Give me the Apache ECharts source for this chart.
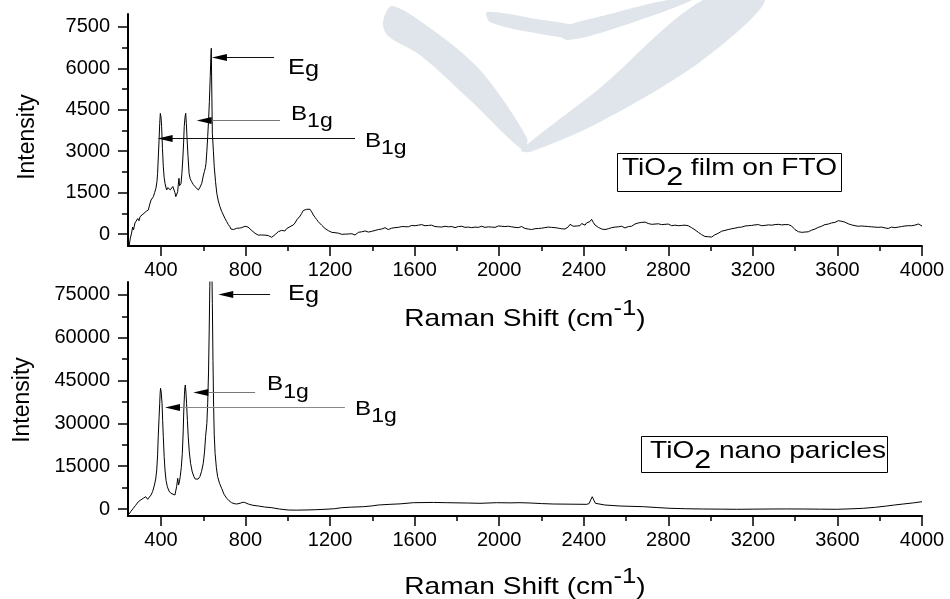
<!DOCTYPE html>
<html><head><meta charset="utf-8">
<script src="https://cdn.jsdelivr.net/npm/echarts@6/dist/echarts.min.js"></script>
<style>html,body{margin:0;padding:0;background:#fff}#c{width:950px;height:599px}</style>
</head><body><div id="c"></div>
<script>
// ---------- tick labels ----------
const xTicks = [400, 800, 1200, 1600, 2000, 2400, 2800, 3200, 3600, 4000];
const xMinorTicks = [600, 1000, 1400, 1800, 2200, 2600, 3000, 3400, 3800];
const filmYTicks = [0, 1500, 3000, 4500, 6000, 7500];
const filmYMinor = [750, 2250, 3750, 5250, 6750];
const npYTicks = [0, 15000, 30000, 45000, 60000, 75000];
const npYMinor = [7500, 22500, 37500, 52500, 67500];

// ---------- series values: [Raman shift (cm-1), intensity] ----------
const filmSpectrum = [
[249,-460],[255,-150],[261,36],[266,250],[270,150],[277,400],[283,350],[290,560],[296,480],[301,627],[308,600],[315,720],[320,680],[324,760],[330,820],[336,780],[340,870],[346,1050],[353,1232],[358,1300],[364,1352],[370,1500],[376,1655],[381,1900],[384,2200],[388,2900],[391,3400],[394,4000],[397,4370],[400,4250],[403,3890],[407,3100],[411,2440],[415,2050],[419,1840],[423,1700],[427,1595],[432,1680],[438,1690],[444,1600],[451,1620],[456,1720],[462,1690],[466,1500],[470,1352],[475,1450],[479,1533],[482,1800],[485,2018],[488,1750],[490,1690],[495,1836],[499,2200],[503,2680],[507,3300],[510,3890],[514,4250],[517,4373],[520,4000],[523,3525],[528,2800],[533,2200],[538,2000],[545,1895],[552,1800],[561,1714],[568,1650],[577,1595],[585,1700],[593,1836],[600,2100],[605,2257],[610,2400],[613,2560],[617,3000],[621,3525],[625,4100],[629,4800],[633,5700],[636,6400],[638,6728],[640,5400],[643,3650],[648,3000],[652,2440],[658,1900],[664,1475],[671,1200],[679,990],[687,820],[695,690],[703,560],[711,446],[718,350],[726,265],[731,180],[737,120],[743,160],[750,190],[758,206],[765,230],[772,215],[782,228],[790,260],[797,280],[805,290],[812,250],[821,206],[830,120],[838,60],[845,25],[852,10],[860,-40],[868,-20],[876,-36],[884,-80],[892,-40],[900,-97],[908,-60],[916,-36],[924,-120],[931,-97],[940,-20],[948,30],[955,83],[962,60],[970,130],[979,145],[986,110],[994,190],[1002,206],[1010,265],[1018,290],[1026,326],[1034,400],[1042,507],[1050,560],[1058,650],[1066,750],[1073,850],[1081,880],[1089,895],[1097,920],[1105,895],[1113,800],[1121,688],[1129,600],[1137,520],[1144,446],[1152,380],[1160,320],[1168,265],[1176,200],[1184,150],[1192,120],[1200,90],[1208,60],[1215,80],[1223,47],[1231,20],[1239,30],[1247,-10],[1255,-12],[1263,20],[1271,-5],[1279,40],[1287,0],[1295,30],[1303,10],[1310,-20],[1318,-36],[1326,20],[1334,60],[1342,47],[1350,80],[1358,60],[1366,110],[1373,83],[1381,70],[1389,120],[1397,95],[1405,83],[1413,130],[1420,110],[1428,160],[1436,145],[1444,180],[1452,160],[1460,228],[1468,190],[1475,160],[1483,170],[1491,210],[1499,190],[1507,230],[1515,206],[1523,240],[1531,220],[1539,270],[1546,250],[1554,265],[1562,290],[1570,260],[1578,300],[1586,310],[1594,326],[1602,300],[1610,330],[1618,320],[1625,290],[1633,340],[1641,326],[1649,300],[1657,350],[1665,310],[1672,280],[1680,320],[1688,300],[1696,270],[1704,300],[1712,260],[1720,290],[1728,250],[1736,265],[1744,280],[1752,240],[1760,260],[1768,230],[1776,270],[1783,250],[1791,230],[1799,243],[1807,270],[1815,240],[1823,280],[1831,260],[1838,240],[1846,290],[1854,250],[1862,265],[1870,230],[1878,270],[1886,250],[1894,290],[1901,240],[1909,260],[1917,280],[1925,265],[1933,240],[1941,280],[1949,260],[1957,290],[1964,250],[1972,270],[1980,240],[1988,265],[1996,290],[2004,260],[2012,280],[2020,300],[2027,270],[2035,310],[2043,280],[2051,290],[2059,260],[2067,280],[2075,240],[2083,260],[2090,230],[2098,250],[2106,270],[2114,228],[2122,200],[2130,230],[2138,180],[2146,210],[2153,160],[2161,145],[2169,190],[2177,220],[2185,200],[2193,240],[2201,210],[2209,206],[2216,230],[2224,200],[2232,250],[2240,220],[2248,240],[2256,200],[2264,230],[2272,228],[2280,210],[2287,240],[2295,190],[2303,220],[2311,180],[2319,170],[2327,260],[2335,350],[2343,300],[2350,280],[2358,320],[2366,290],[2374,330],[2382,300],[2390,380],[2398,350],[2406,320],[2413,400],[2421,410],[2429,450],[2437,532],[2445,420],[2453,326],[2461,265],[2469,240],[2477,206],[2485,180],[2492,220],[2500,160],[2508,145],[2516,190],[2524,206],[2532,230],[2540,206],[2548,250],[2555,220],[2563,260],[2571,240],[2579,280],[2587,250],[2595,220],[2603,228],[2611,270],[2618,300],[2626,280],[2634,330],[2642,360],[2650,340],[2658,400],[2666,446],[2674,420],[2682,380],[2690,430],[2698,410],[2705,380],[2713,400],[2721,350],[2729,390],[2737,360],[2745,400],[2753,370],[2761,362],[2768,340],[2776,380],[2784,350],[2792,330],[2800,360],[2808,340],[2816,300],[2824,350],[2831,320],[2840,326],[2847,300],[2855,340],[2863,310],[2871,280],[2879,320],[2887,290],[2894,300],[2903,265],[2910,230],[2918,200],[2926,150],[2934,120],[2942,60],[2950,25],[2957,-20],[2965,-60],[2973,-90],[2981,-120],[2989,-100],[2997,-156],[3005,-110],[3013,-60],[3020,-30],[3028,10],[3036,25],[3044,80],[3052,100],[3060,140],[3068,130],[3076,170],[3083,160],[3092,206],[3100,190],[3108,230],[3115,210],[3123,250],[3131,240],[3139,270],[3147,250],[3155,265],[3163,290],[3170,270],[3178,300],[3186,280],[3194,310],[3202,290],[3210,330],[3218,300],[3226,340],[3234,326],[3242,300],[3250,340],[3257,310],[3265,350],[3273,330],[3281,360],[3289,320],[3297,350],[3305,340],[3312,380],[3320,350],[3328,362],[3336,330],[3344,370],[3352,340],[3360,320],[3368,340],[3375,300],[3383,290],[3391,220],[3399,160],[3407,120],[3415,83],[3423,100],[3431,60],[3438,40],[3446,70],[3454,25],[3462,80],[3470,100],[3478,140],[3486,130],[3494,180],[3502,206],[3509,240],[3517,230],[3525,280],[3533,300],[3541,340],[3549,387],[3557,360],[3565,420],[3572,400],[3580,450],[3588,420],[3596,470],[3604,482],[3612,430],[3620,460],[3627,400],[3635,430],[3643,410],[3651,370],[3659,390],[3667,330],[3675,350],[3683,300],[3690,320],[3698,280],[3707,265],[3715,290],[3722,250],[3730,280],[3738,240],[3746,270],[3754,230],[3762,260],[3770,228],[3777,250],[3785,200],[3793,240],[3801,210],[3809,250],[3817,265],[3825,220],[3833,250],[3840,200],[3848,230],[3856,250],[3864,190],[3872,230],[3880,206],[3888,250],[3896,220],[3903,270],[3911,240],[3919,290],[3927,250],[3935,300],[3943,265],[3951,300],[3959,280],[3966,320],[3974,330],[3983,362],[3990,310],[4000,290]
];
const npSpectrum = [
[249,-1750],[258,-800],[269,245],[280,1300],[293,2560],[305,3200],[316,3750],[322,4100],[328,4310],[333,3900],[337,3400],[345,4000],[353,4900],[361,6200],[369,8410],[375,10500],[380,13670],[384,19000],[387,25340],[391,32000],[394,37050],[396,40500],[398,42300],[401,41000],[405,37050],[408,31000],[411,25340],[415,18500],[419,13670],[424,10000],[430,7820],[438,6300],[447,5500],[456,5100],[466,4900],[470,5600],[474,7820],[477,9500],[479,10760],[481,9800],[483,8410],[487,9500],[491,11330],[496,14500],[501,19520],[505,27000],[508,34700],[511,40000],[513,42500],[515,43460],[518,41000],[521,37050],[525,31000],[529,25340],[534,20000],[540,16020],[548,13000],[556,11330],[562,10500],[569,10160],[576,10500],[584,11330],[592,13200],[600,16020],[606,20000],[611,25340],[617,30000],[621,37050],[625,48000],[628,62000],[631,78000],[634,92000],[637,96000],[640,88000],[643,72000],[646,52000],[649,36000],[652,26000],[656,19520],[662,14500],[668,11330],[677,9000],[687,7250],[698,5200],[711,3750],[722,2900],[734,2210],[746,1900],[758,1750],[766,1850],[774,2000],[784,2300],[794,2350],[803,2000],[813,1750],[835,1300],[861,1050],[890,700],[924,460],[960,0],[1002,-350],[1040,-400],[1081,-350],[1130,-250],[1176,-100],[1220,100],[1255,460],[1300,650],[1357,810],[1400,1100],[1428,1400],[1436,1750],[1440,1450],[1483,1640],[1531,1800],[1594,2210],[1689,2300],[1752,2210],[1850,2100],[1909,2000],[1988,2210],[2051,2150],[2098,2210],[2150,2100],[2200,1900],[2256,1750],[2330,1700],[2414,1640],[2425,1900],[2433,3200],[2440,4310],[2447,3200],[2455,2000],[2461,1750],[2500,1400],[2571,1050],[2682,810],[2750,500],[2808,245],[2880,100],[2965,0],[3050,-50],[3123,-100],[3200,-50],[3281,0],[3360,20],[3438,0],[3520,-50],[3596,-100],[3660,50],[3722,245],[3780,600],[3833,1050],[3870,1400],[3911,1750],[3960,2150],[4000,2560]
];

// ---------- peak annotations (data units) ----------
const filmArrows = [
  {main: 'E', sub: 'g', y: 6400, tipX: 641, tailX: 935, textX: 1001, textY: 6051, color: '#111', mainSize: 22, subSize: 22, shift: 2},
  {main: 'B', sub: '1g', y: 4130, tipX: 569, tailX: 963, textX: 1015, textY: 4384, color: '#777', mainSize: 21, subSize: 20, shift: 7},
  {main: 'B', sub: '1g', y: 3478, tipX: 384, tailX: 1318, textX: 1365, textY: 3388, color: '#111', mainSize: 21, subSize: 20, shift: 7}
];
const npArrows = [
  {main: 'E', sub: 'g', y: 75250, tipX: 671, tailX: 916, textX: 1001, textY: 75880, color: '#111', mainSize: 22, subSize: 22, shift: 2},
  {main: 'B', sub: '1g', y: 41000, tipX: 553, tailX: 845, textX: 902, textY: 43920, color: '#777', mainSize: 21, subSize: 20, shift: 7},
  {main: 'B', sub: '1g', y: 35860, tipX: 419, tailX: 1270, textX: 1318, textY: 35400, color: '#888', mainSize: 21, subSize: 20, shift: 7}
];
const sampleLabels = [
  {pre: 'TiO', sub: '2', post: ' film on FTO', x: 2557, y: 2935, w: 224, h: 38, padL: 5},
  {pre: 'TiO', sub: '2', post: ' nano paricles', x: 2671, y: 25590, w: 246, h: 36, padL: 9}
];
const xTitle = ['Raman Shift (cm', '-1', ')'];
const yTitle = 'Intensity';

const FONT = '"Liberation Sans", Arial, Helvetica, sans-serif';
const chart = echarts.init(document.getElementById('c'));
const plain = v => String(v);

function makeX(gi, minor) {
  return {
    type: 'value', gridIndex: gi, min: 244, max: 4000, position: 'bottom',
    axisLine: {show: !minor, onZero: false, lineStyle: {color: '#000', width: 2}},
    axisTick: {show: true, customValues: minor ? xMinorTicks : xTicks, length: minor ? 5 : 10, lineStyle: {color: '#000', width: 1.5}},
    axisLabel: minor ? {show: false} : {show: true, customValues: xTicks, formatter: plain, fontSize: 20, fontFamily: FONT, color: '#000', margin: 14},
    splitLine: {show: false}
  };
}
function makeY(gi, min, max, major, minorV, minor) {
  return {
    type: 'value', gridIndex: gi, min: min, max: max, position: 'left',
    axisLine: {show: !minor, onZero: false, lineStyle: {color: '#000', width: 2}},
    axisTick: {show: true, customValues: minor ? minorV : major, length: minor ? 6 : 10, lineStyle: {color: '#000', width: 1.5}},
    axisLabel: minor ? {show: false} : {show: true, customValues: major, formatter: plain, fontSize: 20, fontFamily: FONT, color: '#000', margin: 18},
    splitLine: {show: false}
  };
}

chart.setOption({
  animation: false,
  backgroundColor: '#fff',
  grid: [
    {left: 128, top: 14, width: 794, height: 232},
    {left: 128, top: 282, width: 794, height: 234}
  ],
  xAxis: [makeX(0, false), makeX(1, false), makeX(0, true), makeX(1, true)],
  yAxis: [
    makeY(0, -435, 7970, filmYTicks, filmYMinor, false),
    makeY(1, -2450, 79550, npYTicks, npYMinor, false),
    makeY(0, -435, 7970, filmYTicks, filmYMinor, true),
    makeY(1, -2450, 79550, npYTicks, npYMinor, true)
  ],
  series: [
    {type: 'line', xAxisIndex: 0, yAxisIndex: 0, data: filmSpectrum, showSymbol: false, clip: true, z: 5,
     lineStyle: {color: '#000', width: 1}},
    {type: 'line', xAxisIndex: 1, yAxisIndex: 1, data: npSpectrum, showSymbol: false, clip: true, z: 5,
     lineStyle: {color: '#000', width: 1}}
  ]
});

// ---------- text helpers ----------
const mctx = document.createElement('canvas').getContext('2d');
function tw(t, s) { mctx.font = s + 'px ' + FONT; return mctx.measureText(t).width; }
// parts: [{t, s, dy}] ; dy = baseline offset (positive = lower)
function textRun(x0, capC, parts, scaleX, align, z) {
  const M = parts[0].s;
  const B = capC + 0.358 * M;
  let total = 0;
  parts.forEach(p => { p.w = tw(p.t, p.s) * scaleX; total += p.w; });
  let x = align === 'center' ? x0 - total / 2 : x0;
  const els = [];
  parts.forEach(p => {
    els.push({type: 'text', z: z, x: x, y: B + (p.dy || 0) - 0.31 * p.s, scaleX: scaleX,
      style: {text: p.t, fontSize: p.s, fontFamily: FONT, fill: '#000', textAlign: 'left', textVerticalAlign: 'middle'}});
    x += p.w;
  });
  return els;
}

// ---------- graphic layer ----------
const g = [];
const WM = '#dfe5ea';
// faint background watermark
g.push({type: 'polygon', z: -5, shape: {smooth: 0.3, points: [[383,22],[392,6],[430,28],[480,70],[527,138],[523,150],[470,100],[420,55],[388,36]]}, style: {fill: WM}});
g.push({type: 'polygon', z: -5, shape: {smooth: 0.3, points: [[521,150],[600,88],[703,0],[765,0],[700,62],[600,122],[530,152]]}, style: {fill: WM}});
g.push({type: 'polygon', z: -5, shape: {smooth: 0.3, points: [[487,12],[530,18],[582,28],[578,38],[530,32],[490,22]]}, style: {fill: WM}});
g.push({type: 'polygon', z: -5, shape: {smooth: 0.3, points: [[556,30],[610,14],[668,0],[692,0],[622,26],[568,40]]}, style: {fill: WM}});

function addArrows(si, list) {
  list.forEach(a => {
    const tip = chart.convertToPixel({seriesIndex: si}, [a.tipX, a.y]);
    const tail = chart.convertToPixel({seriesIndex: si}, [a.tailX, a.y]);
    const txt = chart.convertToPixel({seriesIndex: si}, [a.textX, a.textY]);
    const yy = Math.round(tip[1]) + 0.5;
    g.push({type: 'line', z: 20, shape: {x1: tip[0] + 12, y1: yy, x2: tail[0], y2: yy}, style: {stroke: a.color, lineWidth: 1}});
    g.push({type: 'polygon', z: 21, shape: {points: [[tip[0], yy], [tip[0] + 15, yy - 3.5], [tip[0] + 15, yy + 3.5]]}, style: {fill: '#000'}});
    textRun(txt[0], txt[1], [{t: a.main, s: a.mainSize}, {t: a.sub, s: a.subSize, dy: a.shift}], 1.15, 'left', 22).forEach(e => g.push(e));
  });
}
addArrows(0, filmArrows);
addArrows(1, npArrows);

sampleLabels.forEach((b, i) => {
  const p = chart.convertToPixel({seriesIndex: i}, [b.x, b.y]);
  g.push({type: 'rect', z: 22, shape: {x: Math.round(p[0]) + 0.5, y: Math.round(p[1]) + 0.5, width: b.w, height: b.h}, style: {fill: 'rgba(255,255,255,0)', stroke: '#000', lineWidth: 1}});
  textRun(p[0] + b.padL, p[1] + 14.5, [{t: b.pre, s: 24}, {t: b.sub, s: 26, dy: 10}, {t: b.post, s: 24}], 1.17, 'left', 23).forEach(e => g.push(e));
});

// axis titles
const gr0 = chart.convertToPixel({seriesIndex: 0}, [244, -435]);
const gr0e = chart.convertToPixel({seriesIndex: 0}, [4000, 7970]);
const gr1 = chart.convertToPixel({seriesIndex: 1}, [244, -2450]);
const gr1e = chart.convertToPixel({seriesIndex: 1}, [4000, 79550]);
textRun((gr0[0] + gr0e[0]) / 2, gr0[1] + 72, [{t: xTitle[0], s: 24}, {t: xTitle[1], s: 22, dy: -11}, {t: xTitle[2], s: 24}], 1.17, 'center', 22).forEach(e => g.push(e));
textRun((gr1[0] + gr1e[0]) / 2, gr1[1] + 70, [{t: xTitle[0], s: 24}, {t: xTitle[1], s: 22, dy: -11}, {t: xTitle[2], s: 24}], 1.17, 'center', 22).forEach(e => g.push(e));
g.push({type: 'text', z: 22, x: 28, y: (gr0[1] + gr0e[1]) / 2 + 7, rotation: Math.PI / 2,
  style: {text: yTitle, fontSize: 23, fontFamily: FONT, fill: '#000', textAlign: 'center', textVerticalAlign: 'middle'}});
g.push({type: 'text', z: 22, x: 23, y: (gr1[1] + gr1e[1]) / 2 + 1, rotation: Math.PI / 2,
  style: {text: yTitle, fontSize: 23, fontFamily: FONT, fill: '#000', textAlign: 'center', textVerticalAlign: 'middle'}});

chart.setOption({graphic: {elements: g}});
</script></body></html>
